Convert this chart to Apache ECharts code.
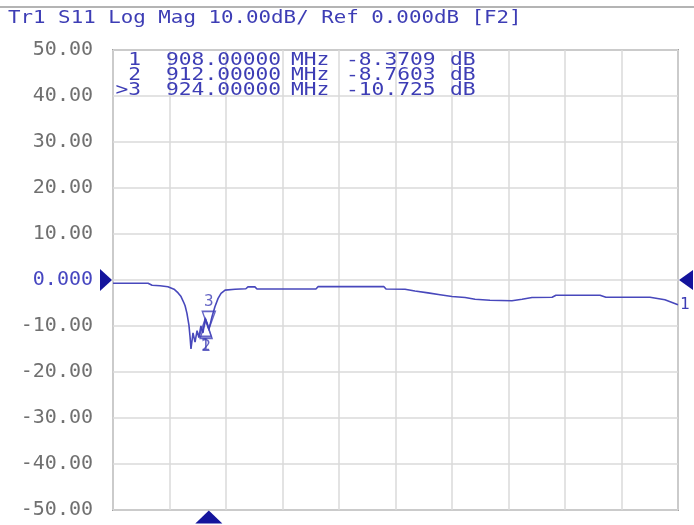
<!DOCTYPE html>
<html>
<head>
<meta charset="utf-8">
<script src="https://cdn.jsdelivr.net/npm/echarts@6/dist/echarts.min.js"></script>
<style>
html,body{margin:0;padding:0;background:#fff;}
#main{width:694px;height:525px;}
</style>
</head>
<body>
<div id="main"></div>
<script>
// Tr1 S11 log mag trace, stimulus in MHz, response in dB
var freq = [500, 655, 673, 708, 743, 770, 788, 801, 814, 819, 827, 836, 841, 845,
            854, 863, 872, 880, 889, 898, 908, 912, 918, 924, 929, 938, 951, 965, 978,
            996, 1040, 1088, 1097, 1128, 1137, 1398, 1407, 1699, 1708, 1792, 1836, 1894,
            1947, 2000, 2058, 2102, 2168, 2265, 2310, 2354, 2443, 2460, 2655, 2681, 2876,
            2942, 3000];
var s11 = [-0.7, -0.72, -1.15, -1.25, -1.45, -2.0, -2.8, -3.6, -5.0, -5.6, -7.2, -9.8, -12.4, -15.0,
           -11.5, -13.5, -11.0, -12.5, -10.0, -11.5, -8.3709, -8.7603, -9.6, -10.725, -9.8, -8.0, -5.8, -4.0, -2.9,
           -2.2, -2.0, -1.9, -1.5, -1.5, -1.96, -1.96, -1.45, -1.45, -1.96, -2.0, -2.4, -2.8,
           -3.2, -3.6, -3.8, -4.2, -4.4, -4.5, -4.2, -3.8, -3.75, -3.3, -3.3, -3.75, -3.75,
           -4.3, -5.4];

// markers
var mkName = ['1', '2', '3'];
var mkFreq = [908, 912, 924];
var mkDb = [-8.3709, -8.7603, -10.725];
var activeMk = 2;

// axis settings
var startFreq = 500, stopFreq = 3000, freqDiv = 250;
var refLevel = 0, yMin = -50, yMax = 50, scaleDiv = 10;

var blue = '#3d3db5';
var navy = '#14149c';
var mono = '"DejaVu Sans Mono", "Liberation Mono", monospace';

var myChart = echarts.init(document.getElementById('main'));

var trace = freq.map(function (f, i) { return [f, s11[i]]; });
var mkAbove = [], mkBelow = [];
mkFreq.forEach(function (f, i) {
    var item = { name: mkName[i], value: [f, mkDb[i]] };
    if (i === activeMk) mkAbove.push(item); else mkBelow.push(item);
});

// marker readout table
var table = [];
mkFreq.forEach(function (f, i) {
    var y = 61 + i * 15;
    var no = (i === activeMk ? '>' : '') + mkName[i];
    var cols = [
        { x: 141, t: no, a: 'right' },
        { x: 166, t: f.toFixed(5), a: 'left' },
        { x: 291, t: 'MHz', a: 'left' },
        { x: 346, t: mkDb[i].toPrecision(5), a: 'left' },
        { x: 450, t: 'dB', a: 'left' }
    ];
    cols.forEach(function (c) {
        table.push({
            type: 'text', x: c.x, y: y, scaleX: 1.25, z: 20,
            style: { text: c.t, font: '17px ' + mono, fill: blue, align: c.a, verticalAlign: 'middle' }
        });
    });
});

var option = {
    animation: false,
    backgroundColor: '#fff',
    grid: {
        left: 113, top: 50, right: 16, bottom: 15,
        show: true, borderColor: '#a0a0a0', borderWidth: 2
    },
    xAxis: {
        type: 'value', min: startFreq, max: stopFreq, interval: freqDiv,
        axisLine: { show: false }, axisTick: { show: false }, axisLabel: { show: false },
        splitLine: { lineStyle: { color: '#dadada', width: 1.5 } }
    },
    yAxis: {
        type: 'value', min: yMin, max: yMax, interval: scaleDiv,
        axisLine: { show: false }, axisTick: { show: false },
        axisLabel: {
            margin: 20, fontFamily: mono, fontSize: 20,
            color: function (v) { return Number(v) === refLevel ? '#4646c0' : '#707070'; },
            formatter: function (v) { return v === refLevel ? '0.000' : v.toFixed(2); }
        },
        splitLine: { lineStyle: { color: '#dadada', width: 1.5 } }
    },
    graphic: [
        { type: 'line', shape: { x1: 0, y1: 7, x2: 694, y2: 7 }, style: { stroke: '#b4b4b4', lineWidth: 2 } },
        {
            type: 'text', x: 8, y: 19, scaleX: 1.224,
            style: { text: 'Tr1 S11 Log Mag 10.00dB/ Ref 0.000dB [F2]', font: '17px ' + mono, fill: blue, align: 'left', verticalAlign: 'middle' }
        }
    ].concat(table),
    series: [
        {
            name: 'S11',
            type: 'line',
            data: trace,
            symbol: 'none',
            lineStyle: { color: '#4848bc', width: 1.6 },
            endLabel: { show: true, formatter: '1', color: blue, fontFamily: mono, fontSize: 16, distance: 2 },
            markPoint: {
                silent: true,
                label: { show: false },
                itemStyle: { color: navy },
                data: [
                    { coord: [startFreq, refLevel], symbol: 'triangle', symbolRotate: -90, symbolSize: [22, 12], symbolOffset: [-7, 0] },
                    { coord: [stopFreq, refLevel], symbol: 'triangle', symbolRotate: 90, symbolSize: [20, 14], symbolOffset: [8, 0] },
                    { coord: [mkFreq[activeMk], yMin], symbol: 'triangle', symbolSize: [27, 13], symbolOffset: [0, 7] }
                ]
            }
        },
        {
            name: 'active marker',
            type: 'scatter',
            data: mkAbove,
            symbol: 'triangle', symbolRotate: 180, symbolSize: [13, 18], symbolOffset: [0, -9],
            itemStyle: { color: 'rgba(255,255,255,0)', borderColor: '#4040b8', borderWidth: 1.5 },
            label: { show: true, position: 'top', distance: 1, formatter: '{b}', color: blue, fontFamily: mono, fontSize: 16 },
            z: 5
        },
        {
            name: 'markers',
            type: 'scatter',
            data: mkBelow,
            symbol: 'triangle', symbolSize: [12, 18], symbolOffset: [0, 9],
            itemStyle: { color: 'rgba(255,255,255,0)', borderColor: '#4040b8', borderWidth: 1.5 },
            label: { show: true, position: 'bottom', distance: 0, formatter: '{b}', color: blue, fontFamily: mono, fontSize: 16 },
            z: 5
        }
    ]
};

myChart.setOption(option);
window.addEventListener('resize', function () { myChart.resize(); });
</script>
</body>
</html>
